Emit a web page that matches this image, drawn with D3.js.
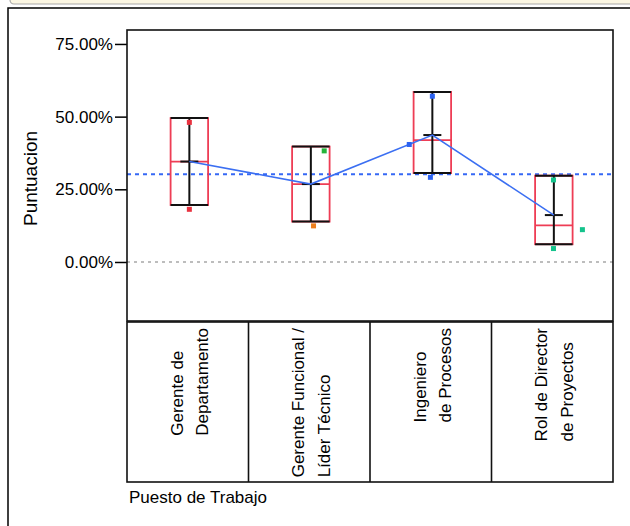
<!DOCTYPE html>
<html>
<head>
<meta charset="utf-8">
<script src="https://cdn.jsdelivr.net/npm/d3@7"></script>
<style>
  body { margin: 0; background: #fff; }
  svg { display: block; }
  text { font-family: Arial, "Liberation Sans", sans-serif; fill: #000; }
</style>
</head>
<body>
<svg id="chart" width="630" height="526"></svg>
<script>
// ---- data -------------------------------------------------------------
const categories = [
  "Gerente de Departamento",
  "Gerente Funcional / Líder Técnico",
  "Ingeniero de Procesos",
  "Rol de Director de Proyectos"
];
const categoryLines = [
  ["Gerente de", "Departamento"],
  ["Gerente Funcional /", "Líder Técnico"],
  ["Ingeniero", "de Procesos"],
  ["Rol de Director", "de Proyectos"]
];
// individual scores (%) for each job title
const scoresGerenteDepto     = [49.5, 19.6];
const scoresGerenteFuncional = [39.7, 13.9];
const scoresIngeniero        = [58.5, 41.9, 30.6];
const scoresDirector         = [29.7, 12.6, 6.1];
// respondent group of each score (sets the marker colour)
const groupsGerenteDepto     = ["g1", "g1"];
const groupsGerenteFuncional = ["g2", "g3"];
const groupsIngeniero        = ["g4", "g4", "g4"];
const groupsDirector         = ["g5", "g5", "g5"];
const yTicks = [0, 25, 50, 75];
const yTitle = "Puntuacion";
const xTitle = "Puesto de Trabajo";

// ---- layout & style ---------------------------------------------------
const W = 630, H = 526;
const plot = { left: 127, right: 613, top: 30, bottom: 321 };
const labelBox = { top: 322, bottom: 482 };
const groupColor = { g1: "#e8323f", g2: "#25b33a", g3: "#ec7d1c", g4: "#2b62f2", g5: "#14c38c" };
// horizontal spread of the markers, as a fraction of the column width
const jitter = [[0, 0], [0.11, 0.022], [0, -0.19, -0.016], [-0.003, 0.235, -0.003]];
const boxColor = "#ee3d55";
const meanLineColor = "#3b6ff2";

const series = [scoresGerenteDepto, scoresGerenteFuncional, scoresIngeniero, scoresDirector];
const groups = [groupsGerenteDepto, groupsGerenteFuncional, groupsIngeniero, groupsDirector];

const svg = d3.select("#chart");

// window strip and outer frame
svg.append("rect").attr("x", 10).attr("y", -8).attr("width", 640).attr("height", 12)
  .attr("rx", 4).attr("fill", "#fcf7e3").attr("stroke", "#a9a9a9").attr("stroke-width", 1.2);
svg.append("rect").attr("x", 8).attr("y", 8).attr("width", 700).attr("height", 600)
  .attr("fill", "none").attr("stroke", "#000").attr("stroke-width", 1.5);

// ---- scales -----------------------------------------------------------
const y = d3.scaleLinear().domain([-20.3, 79.8]).range([plot.bottom, plot.top]);
const x = d3.scaleBand().domain(categories).range([plot.left, plot.right]);
const boxShift = 1.6;
const cx = c => x(c) + x.bandwidth() / 2 + boxShift;
const boxW = 37.5;

// ---- y axis -----------------------------------------------------------
const yAxis = d3.axisLeft(y).tickValues(yTicks)
  .tickFormat(d => d.toFixed(2) + "%").tickSize(12).tickPadding(2);
const gy = svg.append("g").attr("transform", `translate(${plot.left},0)`).call(yAxis);
gy.select(".domain").remove();
gy.selectAll(".tick line").attr("stroke", "#000").attr("stroke-width", 1.5);
gy.selectAll(".tick text").attr("font-size", 17).attr("fill", "#000")
  .attr("font-family", 'Arial, "Liberation Sans", sans-serif');

svg.append("text").attr("transform", `translate(36.5,${(plot.top + plot.bottom) / 2 + 3}) rotate(-90)`)
  .attr("text-anchor", "middle").attr("font-size", 19).text(yTitle);

// ---- reference lines --------------------------------------------------
const allScores = series.flat();
const grandMean = d3.mean(allScores);
svg.append("line").attr("x1", plot.left).attr("x2", plot.right)
  .attr("y1", y(0)).attr("y2", y(0))
  .attr("stroke", "#bdbdbd").attr("stroke-width", 2).attr("stroke-dasharray", "3,4");
svg.append("line").attr("x1", plot.left).attr("x2", plot.right)
  .attr("y1", y(grandMean)).attr("y2", y(grandMean))
  .attr("stroke", "#3668f5").attr("stroke-width", 2).attr("stroke-dasharray", "4,4");

// ---- boxes ------------------------------------------------------------
const stats = categories.map((c, i) => {
  const v = series[i].slice().sort(d3.ascending);
  return { cat: c, min: d3.min(v), max: d3.max(v), median: d3.median(v), mean: d3.mean(v) };
});

const gBox = svg.append("g");
stats.forEach(s => {
  const c = cx(s.cat);
  gBox.append("rect").attr("x", c - boxW / 2).attr("y", y(s.max))
    .attr("width", boxW).attr("height", y(s.min) - y(s.max))
    .attr("fill", "none").attr("stroke", boxColor).attr("stroke-width", 1.8);
  gBox.append("line").attr("x1", c - boxW / 2).attr("x2", c + boxW / 2)
    .attr("y1", y(s.median)).attr("y2", y(s.median))
    .attr("stroke", boxColor).attr("stroke-width", 1.8);
  gBox.append("line").attr("x1", c).attr("x2", c).attr("y1", y(s.max)).attr("y2", y(s.min))
    .attr("stroke", "#111").attr("stroke-width", 2);
  [s.max, s.min].forEach(v => {
    gBox.append("line").attr("x1", c - boxW / 2).attr("x2", c + boxW / 2)
      .attr("y1", y(v)).attr("y2", y(v)).attr("stroke", "#111").attr("stroke-width", 2);
  });
  gBox.append("line").attr("x1", c - 9).attr("x2", c + 9)
    .attr("y1", y(s.mean)).attr("y2", y(s.mean)).attr("stroke", "#111").attr("stroke-width", 2);
});

// line through the group means
svg.append("path").datum(stats)
  .attr("d", d3.line().x(s => cx(s.cat)).y(s => y(s.mean)))
  .attr("fill", "none").attr("stroke", meanLineColor).attr("stroke-width", 1.6);

// ---- markers ----------------------------------------------------------
const pts = [];
categories.forEach((c, i) => series[i].forEach((v, j) => pts.push({ c, v, g: groups[i][j], dx: jitter[i][j] })));
const mk = 5;
svg.append("g").selectAll("rect").data(pts).join("rect")
  .attr("x", d => cx(d.c) + d.dx * x.bandwidth() - mk / 2)
  .attr("y", d => y(d.v) + 1.8)
  .attr("width", mk).attr("height", mk)
  .attr("fill", d => groupColor[d.g]);

// ---- frames -----------------------------------------------------------
svg.append("rect").attr("x", plot.left).attr("y", plot.top)
  .attr("width", plot.right - plot.left).attr("height", plot.bottom - plot.top)
  .attr("fill", "none").attr("stroke", "#111").attr("stroke-width", 1.6);
svg.append("rect").attr("x", plot.left).attr("y", labelBox.top)
  .attr("width", plot.right - plot.left).attr("height", labelBox.bottom - labelBox.top)
  .attr("fill", "none").attr("stroke", "#111").attr("stroke-width", 1.6);
categories.slice(1).forEach(c => {
  svg.append("line").attr("x1", x(c)).attr("x2", x(c))
    .attr("y1", labelBox.top).attr("y2", labelBox.bottom)
    .attr("stroke", "#111").attr("stroke-width", 1.6);
});

// ---- category labels (rotated) ---------------------------------------
categories.forEach((c, i) => {
  const g = svg.append("g");
  const center = x(c) + x.bandwidth() / 2;
  const texts = categoryLines[i].map((line, k) =>
    g.append("text").attr("font-size", 17).attr("text-anchor", "start").text(line)
      .attr("data-k", k));
  const maxLen = d3.max(texts, t => t.node().getComputedTextLength());
  const startY = labelBox.top + 6 + maxLen;
  texts.forEach((t, k) => {
    t.attr("transform", `translate(${center - 5 + k * 25.7},${startY}) rotate(-90)`);
  });
});

svg.append("text").attr("x", 129).attr("y", 503).attr("font-size", 17).text(xTitle);
</script>
</body>
</html>
